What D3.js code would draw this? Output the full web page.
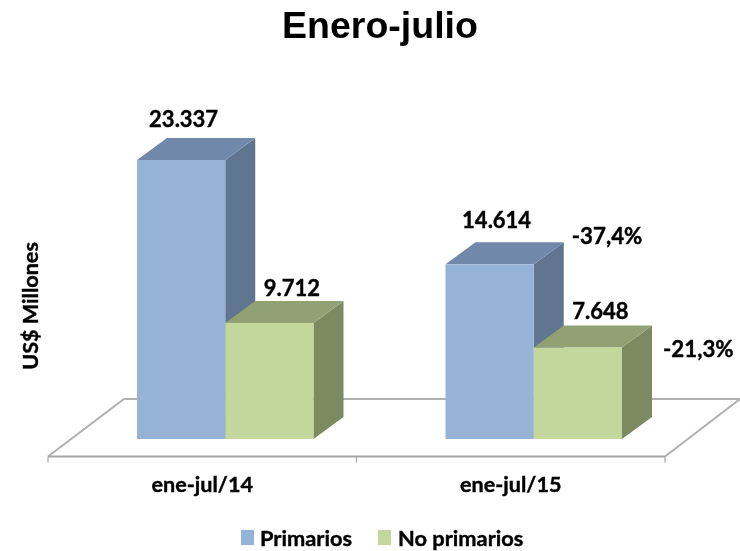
<!DOCTYPE html>
<html><head><meta charset="utf-8">
<script src="https://cdn.jsdelivr.net/npm/d3@7"></script>
<style>html,body{margin:0;padding:0;background:#fff}svg{display:block;filter:blur(0.4px)}</style>
</head><body><svg id="c" width="740" height="551"></svg>
<script>
const categories = ["ene-jul/14", "ene-jul/15"];
const seriesNames = ["Primarios", "No primarios"];
const primarios = [23337, 14614];
const noPrimarios = [9712, 7648];
const primariosLabels = ["23.337", "14.614"];
const noPrimariosLabels = ["9.712", "7.648"];
const changeLabels = [null, null, "-37,4%", "-21,3%"];
const titleText = "Enero-julio";
const yTitle = "US$ Millones";

const seriesValues = [primarios, noPrimarios];
const valueLabels = [primariosLabels, noPrimariosLabels];
const colors = [
  {front:"#95B3D7", top:"#7089AB", side:"#5F7590"},
  {front:"#C3D69B", top:"#92A174", side:"#7C8A60"}
];
// label offsets relative to each bar: [dx from bar centre, dy from back top edge]
const labelOffset = [[[2.5,-11],[22.5,-5]],[[7,-14],[22.5,-6.5]]];
const svg = d3.select("#c");
const LF = "Lato, 'Open Sans', sans-serif";
const dx = 30, dy = -22;
const baseY = 439;
const y = d3.scaleLinear().domain([0, 23337]).range([baseY, 160]);
const x0 = d3.scaleBand().domain(categories).range([48, 665]);
const x1 = d3.scaleBand().domain(seriesNames).range([89, 265.5]);

function boldText(sel, size){
  return sel.attr("font-family",LF).attr("font-weight",700).attr("font-size",size)
    .attr("fill","#000").attr("stroke","#000").attr("stroke-width",0.4);
}

svg.append("text").attr("x",380).attr("y",38).attr("text-anchor","middle")
  .attr("font-family","'Liberation Sans', Arial, sans-serif").attr("font-weight",700)
  .attr("font-size",37.5).attr("fill","#000").text(titleText);

// floor
const floorFront = 456.5, floorBack = 399;
svg.append("path")
  .attr("d",`M${x0.range()[0]},${floorFront}L124,${floorBack}L740,${floorBack}L${x0.range()[1]},${floorFront}`)
  .attr("fill","none").attr("stroke","#B0B0B0").attr("stroke-width",2);

// x axis
const axis = svg.append("g").attr("transform",`translate(0,${floorFront})`);
axis.append("line").attr("x1",48).attr("x2",665).attr("stroke","#A6A6A6").attr("stroke-width",2);
[48, x0(categories[1]), 665].forEach(t=>axis.append("line").attr("x1",t).attr("x2",t).attr("y1",0).attr("y2",6).attr("stroke","#A6A6A6").attr("stroke-width",1.2));

categories.forEach(c=>{
  boldText(svg.append("text").attr("x",x0(c)+x0.bandwidth()/2).attr("y",492).attr("text-anchor","middle"),21.6).text(c);
});

// bars
categories.forEach((c,ci)=>{
  seriesNames.forEach((s,si)=>{
    const v = seriesValues[si][ci];
    const l = x0(c)+x1(s), w = x1.bandwidth(), r = l+w, t = y(v), b = y(0);
    const col = colors[si];
    const g = svg.append("g");
    g.append("path").attr("d",`M${r},${t}L${r+dx},${t+dy}L${r+dx},${b+dy}L${r},${b}Z`).attr("fill",col.side);
    g.append("path").attr("d",`M${l},${t}L${l+dx},${t+dy}L${r+dx},${t+dy}L${r},${t}Z`).attr("fill",col.top);
    g.append("rect").attr("x",l).attr("y",t).attr("width",w).attr("height",b-t).attr("fill",col.front);
    const off = labelOffset[ci][si];
    boldText(g.append("text").attr("x",l+w/2+off[0]).attr("y",t+dy+off[1]).attr("text-anchor","middle"),22).text(valueLabels[si][ci]);
    const ch = changeLabels[ci*2+si];
    if (ch) {
      boldText(g.append("text").attr("x",si===0?r+38:r+41).attr("y",si===0?t-20:t+9),22.3).text(ch);
    }
  });
});

boldText(svg.append("text").attr("transform","translate(38,306) rotate(-90)").attr("text-anchor","middle"),21.6).text(yTitle);

// legend
const lx = [241, 378], tx = [260, 398];
seriesNames.forEach((s,i)=>{
  svg.append("rect").attr("x",lx[i]).attr("y",530).attr("width",13).attr("height",15).attr("fill",colors[i].front);
  boldText(svg.append("text").attr("x",tx[i]).attr("y",546),21.8).text(s);
});
</script></body></html>
